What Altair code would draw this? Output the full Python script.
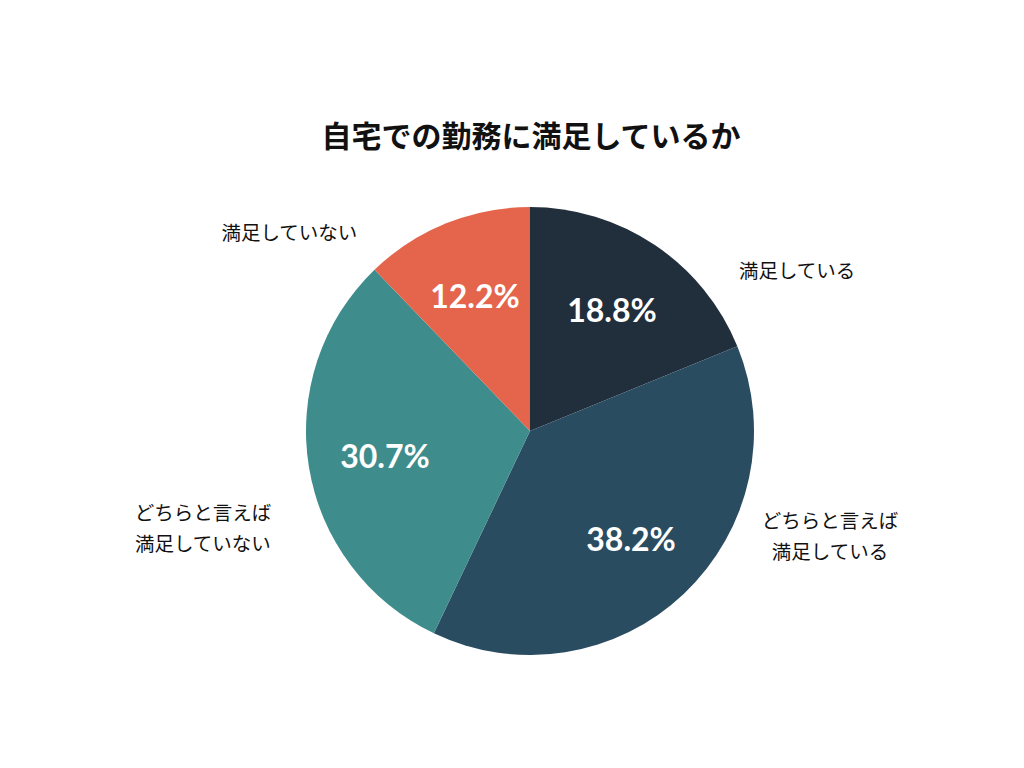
import altair as alt
import pandas as pd

# data
categories = ["満足している", "どちらと言えば\n満足している", "どちらと言えば\n満足していない", "満足していない"]
values = [18.8, 38.2, 30.7, 12.2]
colors = ["#212e3b", "#2a4c61", "#3e8c8c", "#e4654c"]

# outer label placement (angle from 12 o'clock clockwise, in degrees; distance from centre in px)
label_angle = [59.2, 106.9, 255.8, 309.3]
label_dist = [311, 313.5, 337.4, 311]

CX, CY, R = 522, 263, 224

df = pd.DataFrame({
    "cat": categories,
    "value": values,
    "idx": list(range(len(values))),
    "pct": [f"{v:.1f}%" for v in values],
    "ang": label_angle,
    "dist": label_dist,
})

base = alt.Chart(df)

pie = base.mark_arc(outerRadius=R).encode(
    theta=alt.Theta("value:Q", stack=True),
    order=alt.Order("idx:Q", sort="ascending"),
    color=alt.Color("cat:N", scale=alt.Scale(domain=categories, range=colors), legend=None),
    x=alt.value(CX),
    y=alt.value(CY),
)

pct = base.mark_text(
    font="Lato", fontWeight="bold", fontSize=32, color="white", align="center", baseline="middle", dy=3
).encode(
    theta=alt.Theta("value:Q", stack=True),
    order=alt.Order("idx:Q", sort="ascending"),
    radius=alt.value(147),
    text="pct:N",
    x=alt.value(CX),
    y=alt.value(CY),
)

outer = base.transform_calculate(
    px=f"{CX} + datum.dist * sin(datum.ang * PI / 180)",
    py=f"{CY} - datum.dist * cos(datum.ang * PI / 180)",
).mark_text(
    font="Noto Sans CJK JP", fontSize=19.5, color="#111111", align="center", baseline="middle",
    lineBreak="\n", lineHeight=31,
).encode(
    x=alt.X("px:Q", scale=None),
    y=alt.Y("py:Q", scale=None),
    text="cat:N",
)

chart = alt.layer(pie, pct, outer).properties(
    width=1008,
    height=592,
    padding={"left": 0, "right": 0, "top": 160, "bottom": 0},
    autosize="none",
    title=alt.TitleParams(
        "自宅での勤務に満足しているか",
        font="Noto Sans CJK JP", fontSize=30, fontWeight="bold", color="#111111",
        anchor="middle", dx=19, offset=15,
    ),
).configure_view(stroke=None)

chart.save("out.html", embed_options={"renderer": "svg", "actions": False})
